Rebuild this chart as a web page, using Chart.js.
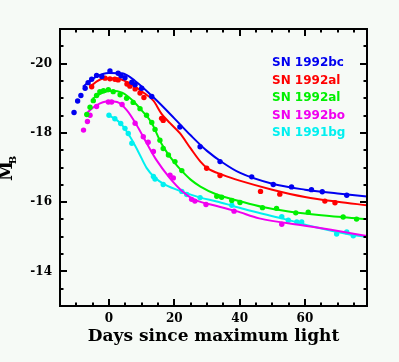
<!DOCTYPE html>
<html>
<head>
<meta charset="utf-8">
<script src="https://cdn.jsdelivr.net/npm/chart.js@4"></script>
<style>
  html, body { margin: 0; padding: 0; background: #f6faf6; }
  canvas { display: block; }
</style>
</head>
<body>
<canvas id="chart" width="399" height="362"></canvas>
<script>
// Light curves (days since B max, absolute B magnitude)
const names = ['SN 1992bc', 'SN 1992al', 'SN 1992al', 'SN 1992bo', 'SN 1991bg'];
const colors = ['#0000f0', '#ff0000', '#00f000', '#f000f0', '#00f0f0'];

const xTicks = [0, 20, 40, 60];
const yTicks = [-20, -18, -16, -14];

// template fits (solid lines)
const bcFitDays = [-8, -4, 0, 4, 8, 14, 20, 25, 30, 35, 40, 50, 60, 70, 79];
const bcFitMag = [-19.33, -19.62, -19.73, -19.72, -19.5, -18.99, -18.42, -17.93, -17.48, -17.13, -16.85, -16.53, -16.36, -16.25, -16.16];
const alFitDays = [-6, -2, 2, 6, 10, 13.6, 16.1, 18.7, 21.7, 25, 28, 30, 35, 40, 50, 60, 70, 79];
const alFitMag = [-19.33, -19.56, -19.58, -19.45, -19.2, -18.93, -18.55, -18.28, -17.99, -17.55, -17.17, -16.99, -16.78, -16.62, -16.36, -16.15, -16.01, -15.91];
const al2FitDays = [-5, -2, 1, 4, 7.4, 10, 13, 16, 18, 20, 22, 25, 28, 33, 40, 47, 55, 65, 79];
const al2FitMag = [-18.99, -19.16, -19.22, -19.16, -18.92, -18.65, -18.3, -17.7, -17.4, -17.15, -16.93, -16.65, -16.45, -16.22, -16.03, -15.86, -15.73, -15.62, -15.51];
const boFitDays = [-7, -4, 0, 2.5, 5.5, 8.5, 11.5, 14.5, 18.5, 22.5, 26, 33, 39, 46, 60, 68, 79];
const boFitMag = [-18.56, -18.79, -18.91, -18.89, -18.65, -18.22, -17.71, -17.22, -16.71, -16.31, -16.08, -15.89, -15.74, -15.53, -15.32, -15.2, -15.02];
const bgFitDays = [0, 3.5, 6.5, 9, 11.5, 14, 17, 23, 28, 33, 38, 43, 53, 63, 73, 79];
const bgFitMag = [-18.51, -18.28, -17.88, -17.45, -16.99, -16.71, -16.51, -16.28, -16.13, -16.02, -15.89, -15.76, -15.53, -15.28, -15.08, -14.99];

// observations (points)
const bcObsDays = [-10.7, -9.6, -8.6, -7.3, -6.4, -5.3, -3.8, -2.2, 0.3, 2.8, 3.7, 4.9, 7.0, 8.0, 10.0, 13.1, 21.7, 27.9, 34.0, 43.7, 50.3, 55.9, 62.0, 65.3, 72.8];
const bcObsMag = [-18.59, -18.92, -19.08, -19.29, -19.45, -19.55, -19.66, -19.63, -19.79, -19.72, -19.65, -19.59, -19.46, -19.39, -19.29, -19.05, -18.17, -17.6, -17.17, -16.73, -16.51, -16.44, -16.36, -16.3, -16.2];
const alObsDays = [-5.3, -1.2, 0.3, 1.8, 2.8, 5.5, 6.4, 8.0, 9.5, 10.7, 16.1, 16.6, 29.9, 34.0, 46.4, 52.3, 66.1, 69.2];
const alObsMag = [-19.33, -19.58, -19.56, -19.55, -19.53, -19.41, -19.35, -19.27, -19.15, -19.02, -18.42, -18.36, -16.98, -16.77, -16.31, -16.23, -16.03, -15.98];
const al2ObsDays = [-6.8, -5.8, -4.8, -3.8, -2.8, -1.7, -0.2, 1.3, 3.4, 5.4, 7.4, 9.5, 11.5, 13.1, 14.1, 15.6, 16.6, 18.2, 20.2, 22.3, 33.0, 34.5, 37.6, 40.1, 47.0, 51.3, 57.2, 61.0, 71.7, 75.8];
const al2ObsMag = [-18.53, -18.74, -18.93, -19.08, -19.19, -19.22, -19.25, -19.19, -19.1, -19.0, -18.88, -18.7, -18.51, -18.3, -18.1, -17.79, -17.55, -17.36, -17.17, -16.91, -16.17, -16.14, -16.05, -15.99, -15.84, -15.82, -15.69, -15.71, -15.57, -15.51];
const boObsDays = [-7.8, -6.6, -5.8, -3.8, -0.2, 0.8, 4.0, 8.0, 10.5, 12.0, 13.6, 18.7, 19.7, 25.3, 26.3, 29.7, 38.3, 52.9];
const boObsMag = [-18.08, -18.33, -18.51, -18.76, -18.89, -18.89, -18.82, -18.28, -17.89, -17.73, -17.46, -16.78, -16.7, -16.08, -16.03, -15.93, -15.74, -15.36];
const bgObsDays = [0, 1.8, 3.6, 4.9, 5.9, 7.0, 13.6, 14.1, 16.6, 22.3, 23.8, 27.9, 37.6, 52.9, 54.9, 57.5, 59.0, 69.7, 72.8, 74.8];
const bgObsMag = [-18.51, -18.41, -18.27, -18.13, -17.98, -17.7, -16.74, -16.67, -16.51, -16.31, -16.22, -16.13, -15.91, -15.58, -15.48, -15.43, -15.43, -15.08, -15.14, -15.03];

const fits = [[bcFitDays, bcFitMag], [alFitDays, alFitMag], [al2FitDays, al2FitMag], [boFitDays, boFitMag], [bgFitDays, bgFitMag]];
const obs = [[bcObsDays, bcObsMag], [alObsDays, alObsMag], [al2ObsDays, al2ObsMag], [boObsDays, boObsMag], [bgObsDays, bgObsMag]];

const toXY = (xs, ys) => xs.map((x, i) => ({ x: x, y: ys[i] }));

const datasets = [];
fits.forEach((f, i) => {
    datasets.push({
        label: names[i] + ' fit',
        data: toXY(f[0], f[1]),
        showLine: true,
        borderColor: colors[i],
        borderWidth: 2,
        pointRadius: 0,
        cubicInterpolationMode: 'monotone'
    });
    datasets.push({
        label: names[i],
        data: toXY(obs[i][0], obs[i][1]),
        showLine: false,
        backgroundColor: colors[i],
        borderColor: colors[i],
        pointRadius: 2.7,
        borderWidth: 0
    });
});

const tickFont = { family: 'DejaVu Serif', weight: 'bold', size: 12 };

// frame, inside ticks, axis titles and the coloured legend
const decor = {
    id: 'decor',
    beforeDraw(chart) {
        const c = chart.ctx;
        c.save();
        c.fillStyle = '#f6faf6';
        c.fillRect(0, 0, chart.width, chart.height);
        c.restore();
    },
    afterDraw(chart) {
        const c = chart.ctx;
        const a = chart.chartArea;
        const xs = chart.scales.x, ys = chart.scales.y;
        c.save();
        c.strokeStyle = '#000';
        c.lineWidth = 2;
        c.strokeRect(a.left, a.top, a.right - a.left, a.bottom - a.top);

        c.beginPath();
        for (let d = -15; d <= 79; d += 5) {
            const px = Math.round(xs.getPixelForValue(d));
            const len = d % 20 === 0 ? 7 : 3.5;
            c.moveTo(px, a.bottom); c.lineTo(px, a.bottom - len);
            c.moveTo(px, a.top); c.lineTo(px, a.top + len);
        }
        for (let m = -21; m <= -13; m += 0.5) {
            const py = Math.round(ys.getPixelForValue(m));
            const len = m % 2 === 0 ? 7 : 3.5;
            c.moveTo(a.left, py); c.lineTo(a.left + len, py);
            c.moveTo(a.right, py); c.lineTo(a.right - len, py);
        }
        c.stroke();

        // x title
        c.fillStyle = '#000';
        c.font = 'bold 17px "DejaVu Serif"';
        c.textAlign = 'center';
        c.textBaseline = 'middle';
        c.fillText('Days since maximum light', (a.left + a.right) / 2, 337);

        // y title M_B
        c.save();
        c.translate(7, 171);
        c.rotate(-Math.PI / 2);
        c.font = 'bold 18px "DejaVu Serif"';
        c.fillText('M', 0, 0);
        c.font = 'bold 10px "DejaVu Serif"';
        c.fillText('B', 11, 6);
        c.restore();

        // legend
        c.font = 'bold 12px "DejaVu Sans"';
        c.textAlign = 'left';
        names.forEach((n, i) => {
            c.fillStyle = colors[i];
            c.fillText(n, 272, a.top + 34 + i * 17.5);
        });
        c.restore();
    }
};

new Chart(document.getElementById('chart'), {
    type: 'scatter',
    data: { datasets: datasets },
    options: {
        responsive: false,
        animation: false,
        layout: { padding: { top: 29, right: 32, left: 0, bottom: 0 } },
        plugins: { legend: { display: false }, tooltip: { enabled: false } },
        scales: {
            x: {
                type: 'linear',
                min: -15,
                max: 79,
                grid: { display: false, drawTicks: false },
                border: { display: false },
                afterBuildTicks: s => { s.ticks = xTicks.map(v => ({ value: v })); },
                afterFit: s => { s.height = 56; },
                ticks: { font: tickFont, color: '#000', padding: 6, maxRotation: 0 }
            },
            y: {
                type: 'linear',
                reverse: true,
                min: -21,
                max: -13,
                grid: { display: false, drawTicks: false },
                border: { display: false },
                afterBuildTicks: s => { s.ticks = yTicks.map(v => ({ value: v })); },
                afterFit: s => { s.width = 60; },
                ticks: { font: tickFont, color: '#000', padding: 8 }
            }
        }
    },
    plugins: [decor]
});
</script>
</body>
</html>
